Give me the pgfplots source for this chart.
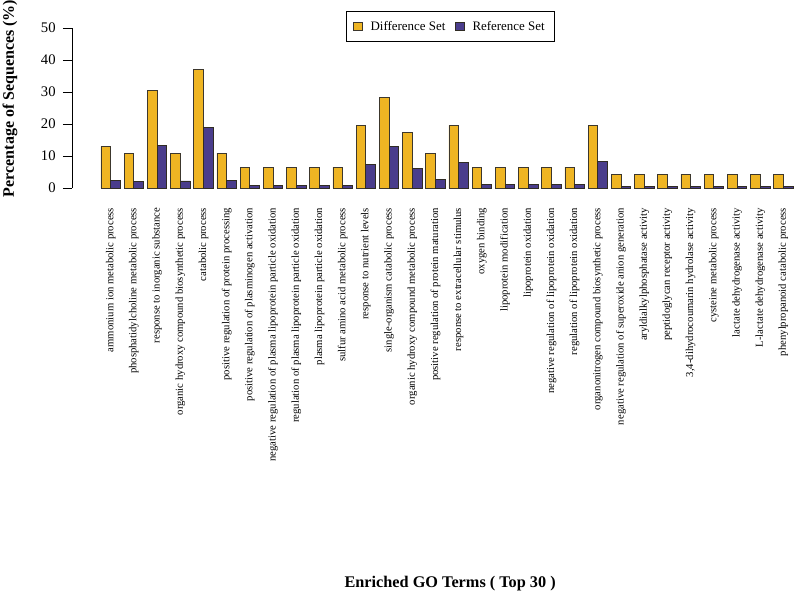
\documentclass[border=0pt]{standalone}
\usepackage{fontspec}
\setmainfont{Liberation Serif}
\usepackage{pgfplots}
\usepackage{pgfplotstable}
\pgfplotsset{compat=1.18}
\definecolor{goldbar}{RGB}{239,181,35}
\definecolor{bluebar}{RGB}{74,61,140}
\definecolor{edgec}{RGB}{60,55,45}
\pgfplotstableread{
x diff ref
1 13.04 2.4
2 10.87 2.0
3 30.43 13.4
4 10.87 2.2
5 36.96 19.0
6 10.87 2.4
7 6.52 0.8
8 6.52 0.8
9 6.52 0.8
10 6.52 0.8
11 6.52 0.8
12 19.57 7.3
13 28.26 13.0
14 17.39 6.1
15 10.87 2.6
16 19.57 8.0
17 6.52 1.0
18 6.52 1.0
19 6.52 1.0
20 6.52 1.0
21 6.52 1.0
22 19.57 8.2
23 4.35 0.4
24 4.35 0.4
25 4.35 0.4
26 4.35 0.4
27 4.35 0.4
28 4.35 0.4
29 4.35 0.4
30 4.35 0.4
}\datatable
\begin{document}
\begin{tikzpicture}
\path[use as bounding box] (-54pt,-305.25pt) rectangle (546pt,141pt);
\begin{axis}[
  at={(0,0)}, anchor=south west,
  scale only axis,
  width=542.25pt, height=120pt,
  xmin=-0.668, xmax=30.5,
  ymin=0, ymax=50,
  ytick={0,10,...,50},
  axis lines=left,
  axis line style={-},
  x axis line style={draw=none},
  xtick style={draw=none},
  ytick style={black, line width=0.6pt},
  y axis line style={line width=0.6pt},
  tick align=outside,
  major tick length=6.75pt,
  ybar=0pt,
  bar width=0.418,
  xtick={1,...,30},
  xticklabels={ammonium ion metabolic process,phosphatidylcholine metabolic process,response to inorganic substance,organic hydroxy compound biosynthetic process,catabolic process,positive regulation of protein processing,positive regulation of plasminogen activation,negative regulation of plasma lipoprotein particle oxidation,regulation of plasma lipoprotein particle oxidation,plasma lipoprotein particle oxidation,sulfur amino acid metabolic process,response to nutrient levels,single-organism catabolic process,organic hydroxy compound metabolic process,positive regulation of protein maturation,response to extracellular stimulus,oxygen binding,lipoprotein modification,lipoprotein oxidation,negative regulation of lipoprotein oxidation,regulation of lipoprotein oxidation,organonitrogen compound biosynthetic process,negative regulation of superoxide anion generation,aryldialkylphosphatase activity,peptidoglycan receptor activity,{3,4-dihydrocoumarin hydrolase activity},cysteine metabolic process,lactate dehydrogenase activity,L-lactate dehydrogenase activity,phenylpropanoid catabolic process},
  xticklabel style={rotate=90, anchor=east, font=\fontsize{8}{9.5}\selectfont, inner sep=1pt},
  xticklabel shift=7pt,
  yticklabel style={font=\fontsize{11}{13}\selectfont, xshift=-2pt},
  /pgf/number format/assume math mode=true,
  xlabel={\bfseries Enriched GO Terms ( Top 30 )},
  xlabel style={at={(axis description cs:0.523,-2.47)}, anchor=center, font=\fontsize{12.2}{14}\selectfont},
  ylabel={\bfseries Percentage of Sequences (\%)},
  ylabel style={at={(axis description cs:-0.0858,0.56)}, anchor=center, font=\fontsize{12}{14}\selectfont},
  legend columns=2,
  legend style={at={(axis description cs:0.523,1.009)}, anchor=center, draw=black, line width=0.6pt, font=\fontsize{9.7}{11}\selectfont, inner xsep=5pt, inner ysep=5pt, /tikz/every even column/.append style={column sep=5pt}},
  legend image code/.code={\draw[#1, line width=0.6pt] (0pt,-3pt) rectangle (7pt,3pt); \path[draw=none, fill=none] (0pt,0pt) rectangle (11pt,0.1pt);},
]
\addplot[fill=goldbar, draw=edgec, line width=0.6pt] table[x=x, y=diff] {\datatable};
\addplot[fill=bluebar, draw=edgec!80!black, line width=0.6pt] table[x=x, y=ref] {\datatable};
\legend{Difference Set, Reference Set}
\end{axis}
\end{tikzpicture}
\end{document}
